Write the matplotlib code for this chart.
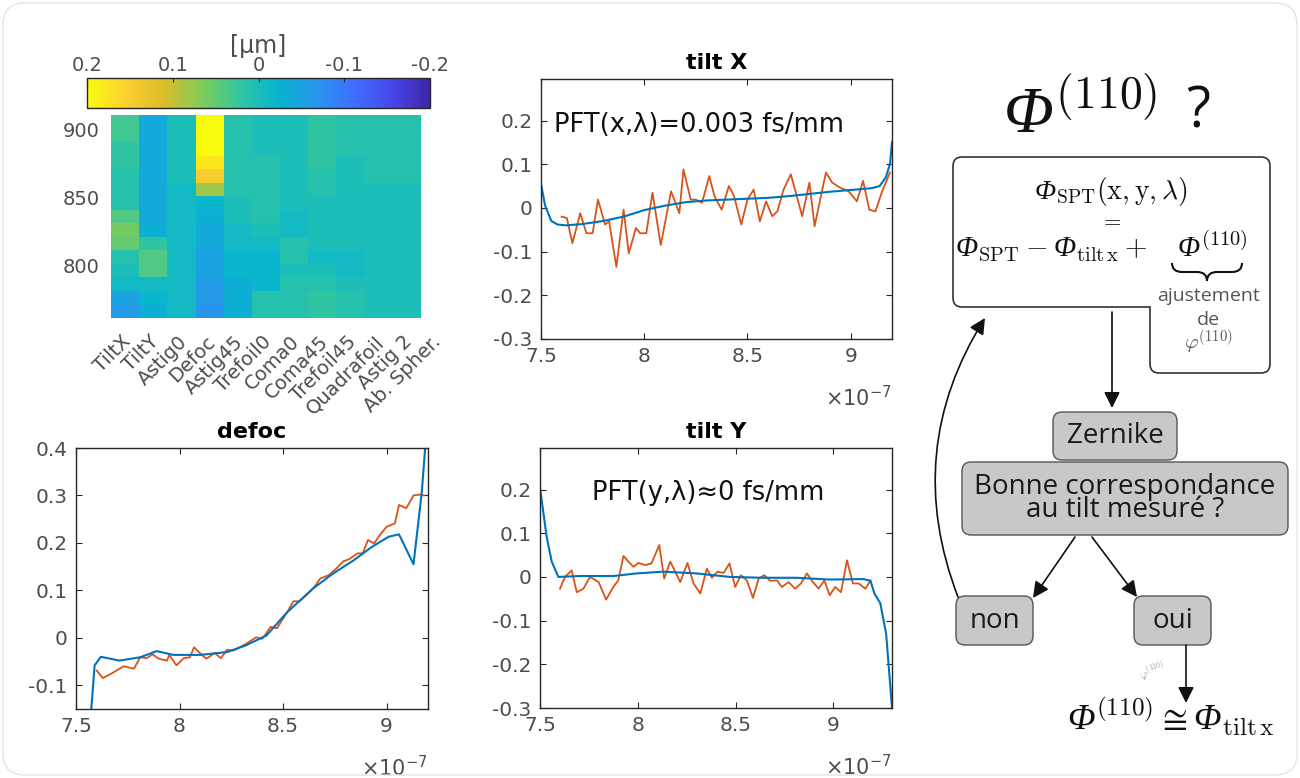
"""Zernike decomposition of the spatio-spectral phase and the tilt fitting loop."""

import matplotlib

matplotlib.use("Agg")
import matplotlib.pyplot as plt
import numpy as np
from matplotlib.colors import LinearSegmentedColormap, Normalize
from matplotlib.patches import FancyBboxPatch, PathPatch
from matplotlib.path import Path
from matplotlib.ticker import FormatStrFormatter
from matplotlib.transforms import ScaledTranslation

plt.rcParams["axes.unicode_minus"] = False
plt.rcParams["mathtext.fontset"] = "cm"

W, H = 1300, 778

# ---------------------------------------------------------------- data
zernike_labels = ["TiltX", "TiltY", "Astig0", "Defoc", "Astig45", "Trefoil0",
                  "Coma0", "Coma45", "Trefoil45", "Quadrafoil", "Astig 2",
                  "Ab. Spher."]
wavelength_edges = np.linspace(761, 911, 16)  # nm, 15 rows
# rows from 761 nm (bottom) to 911 nm (top), 11 cells (pcolor drops last label)
zernike_coeffs = np.array([
    [-0.06, -0.03, -0.01, -0.07, -0.03, 0.01, 0.01, 0.02, 0.01, 0.00, 0.00],
    [-0.05, -0.02, -0.01, -0.06, -0.03, 0.01, 0.01, 0.02, 0.01, 0.00, 0.00],
    [-0.01, -0.01, -0.01, -0.06, -0.03, -0.02, 0.01, 0.01, 0.00, 0.00, 0.00],
    [0.00, 0.04, -0.01, -0.05, -0.02, -0.02, 0.00, 0.00, -0.01, 0.00, 0.00],
    [0.01, 0.04, -0.01, -0.05, -0.02, -0.02, 0.01, -0.01, -0.01, 0.00, 0.00],
    [0.05, 0.02, -0.01, -0.04, -0.01, -0.01, 0.01, 0.00, 0.00, 0.00, 0.00],
    [0.06, -0.03, -0.01, -0.04, -0.01, 0.00, -0.01, 0.00, 0.00, 0.00, 0.00],
    [0.04, -0.04, -0.01, -0.03, 0.00, 0.01, -0.01, 0.00, 0.00, 0.00, 0.00],
    [0.01, -0.04, -0.01, -0.02, 0.00, 0.01, 0.00, 0.00, 0.00, 0.00, 0.00],
    [0.01, -0.04, -0.01, 0.08, 0.01, 0.01, 0.00, 0.01, 0.00, 0.00, 0.00],
    [0.01, -0.04, 0.00, 0.15, 0.01, 0.01, 0.00, 0.01, 0.00, 0.01, 0.01],
    [0.02, -0.04, 0.00, 0.18, 0.01, 0.01, 0.00, 0.02, 0.00, 0.01, 0.01],
    [0.02, -0.04, 0.00, 0.20, 0.01, 0.00, 0.00, 0.02, 0.01, 0.01, 0.01],
    [0.03, -0.04, 0.00, 0.20, 0.01, 0.00, 0.00, 0.02, 0.01, 0.01, 0.01],
    [0.03, -0.04, 0.00, 0.20, 0.01, 0.00, 0.00, 0.02, 0.01, 0.01, 0.01],
])
cbar_ticks = [0.2, 0.1, 0, -0.1, -0.2]

# wavelength in units of 1e-7 m
tiltx_fit_x = [7.50, 7.52, 7.55, 7.58, 7.62, 7.70, 7.80, 7.90, 8.00, 8.10, 8.20,
               8.30, 8.40, 8.50, 8.60, 8.70, 8.80, 8.90, 9.00, 9.10, 9.14, 9.17,
               9.19, 9.20]
tiltx_fit_y = [0.055, 0.005, -0.03, -0.038, -0.04, -0.037, -0.03, -0.02, -0.005,
               0.005, 0.013, 0.017, 0.019, 0.021, 0.023, 0.027, 0.032, 0.037,
               0.041, 0.045, 0.05, 0.07, 0.10, 0.15]
tiltx_meas_x = [7.60, 7.625, 7.652, 7.69, 7.72, 7.75, 7.776, 7.81, 7.83, 7.865,
                7.90, 7.925, 7.96, 7.98, 8.01, 8.04, 8.08, 8.13, 8.17, 8.19,
                8.225, 8.25, 8.28, 8.315, 8.34, 8.375, 8.41, 8.435, 8.47, 8.50,
                8.53, 8.56, 8.59, 8.62, 8.645, 8.675, 8.71, 8.765, 8.80, 8.825,
                8.88, 8.91, 8.95, 8.99, 9.03, 9.06, 9.09, 9.12, 9.15, 9.19]
tiltx_meas_y = [-0.02, -0.023, -0.081, -0.012, -0.058, -0.058, 0.019, -0.038,
                -0.031, -0.135, -0.004, -0.104, -0.046, -0.058, -0.058, 0.035,
                -0.085, 0.038, -0.012, 0.088, 0.019, 0.019, 0.012, 0.073, 0.027,
                -0.004, 0.05, 0.027, -0.038, 0.019, 0.042, -0.031, 0.015, -0.019,
                -0.008, 0.042, 0.077, -0.019, 0.058, -0.042, 0.081, 0.058, 0.046,
                0.038, 0.015, 0.062, -0.004, -0.008, 0.035, 0.081]

defoc_fit_x = [7.565, 7.59, 7.62, 7.71, 7.81, 7.89, 7.97, 8.10, 8.23, 8.32, 8.42,
               8.52, 8.645, 8.74, 8.84, 8.93, 9.01, 9.06, 9.13, 9.17, 9.195]
defoc_fit_y = [-0.20, -0.058, -0.04, -0.048, -0.041, -0.028, -0.036, -0.036,
               -0.03, -0.016, 0.005, 0.054, 0.104, 0.135, 0.163, 0.192, 0.213,
               0.218, 0.155, 0.307, 0.45]
defoc_meas_x = [7.60, 7.63, 7.68, 7.73, 7.78, 7.81, 7.84, 7.87, 7.90, 7.94, 7.95,
                7.985, 8.02, 8.05, 8.07, 8.11, 8.13, 8.17, 8.20, 8.23, 8.26, 8.29,
                8.32, 8.37, 8.40, 8.44, 8.47, 8.52, 8.55, 8.58, 8.61, 8.645, 8.68,
                8.72, 8.76, 8.79, 8.82, 8.86, 8.885, 8.91, 8.94, 8.97, 9.00, 9.04,
                9.06, 9.095, 9.13, 9.16, 9.18]
defoc_meas_y = [-0.069, -0.085, -0.073, -0.06, -0.065, -0.041, -0.043, -0.035,
                -0.044, -0.048, -0.036, -0.058, -0.043, -0.041, -0.02, -0.037,
                -0.044, -0.032, -0.043, -0.025, -0.027, -0.02, -0.013, 0.001,
                -0.002, 0.023, 0.02, 0.054, 0.077, 0.077, 0.089, 0.104, 0.125,
                0.132, 0.147, 0.161, 0.166, 0.178, 0.178, 0.206, 0.199, 0.218,
                0.234, 0.241, 0.28, 0.273, 0.30, 0.302, 0.30]

tilty_fit_x = [7.50, 7.534, 7.56, 7.594, 7.705, 7.875, 7.995, 8.13, 8.30, 8.47,
               8.64, 8.81, 8.98, 9.155, 9.19, 9.21, 9.24, 9.27, 9.30]
tilty_fit_y = [0.204, 0.092, 0.035, 0.0, 0.002, 0.002, 0.008, 0.012, 0.008, 0.0,
               -0.002, -0.002, -0.006, -0.005, -0.009, -0.038, -0.06, -0.13, -0.30]
tilty_meas_x = [7.602, 7.628, 7.662, 7.688, 7.722, 7.756, 7.80, 7.838, 7.875,
                7.90, 7.927, 7.952, 7.978, 8.003, 8.038, 8.07, 8.11, 8.135, 8.166,
                8.196, 8.217, 8.254, 8.285, 8.32, 8.353, 8.379, 8.408, 8.439,
                8.469, 8.498, 8.527, 8.558, 8.589, 8.618, 8.647, 8.677, 8.712,
                8.737, 8.771, 8.805, 8.834, 8.865, 8.896, 8.925, 8.954, 8.981,
                9.01, 9.039, 9.07, 9.10, 9.13, 9.164, 9.19]
tilty_meas_y = [-0.027, 0.0, 0.015, -0.035, -0.027, 0.0, -0.012, -0.052, -0.023,
                -0.008, 0.048, 0.035, 0.023, 0.032, 0.027, 0.031, 0.073, -0.004,
                0.035, 0.008, -0.012, 0.032, -0.015, -0.038, 0.019, -0.002, 0.012,
                0.009, 0.031, -0.023, 0.004, -0.008, -0.048, -0.004, 0.004, -0.009,
                -0.008, -0.023, -0.012, -0.027, -0.015, 0.008, -0.012, -0.027,
                -0.008, -0.042, -0.023, -0.035, 0.038, -0.015, -0.015, -0.027,
                -0.008]

# ---------------------------------------------------------------- style
BLUE = "#0072BD"
ORANGE = "#D95319"
TICK_GRAY = "#4d4d4d"
EDGE = "#262626"
SERIF = "Liberation Serif"

parula = LinearSegmentedColormap.from_list("parula", [
    (0.2422, 0.1504, 0.6603), (0.2803, 0.2782, 0.9221),
    (0.2440, 0.4358, 0.9988), (0.1540, 0.5902, 0.9218),
    (0.0297, 0.7082, 0.8163), (0.1938, 0.7758, 0.6251),
    (0.5044, 0.7993, 0.3480), (0.8634, 0.7406, 0.1596),
    (0.9892, 0.8136, 0.1885), (0.9763, 0.9831, 0.0538)])


def px_rect(x0, y0, x1, y1):
    """Pixel box (top-left origin) to figure-fraction rect."""
    return [x0 / W, 1 - y1 / H, (x1 - x0) / W, (y1 - y0) / H]


def matlab_axes(fig, rect, title):
    ax = fig.add_axes(rect)
    ax.set_title(title, fontsize=16, fontweight="bold", pad=7)
    ax.tick_params(direction="in", length=4, width=0.8, top=True, right=True,
                   labelsize=14.5, labelcolor=TICK_GRAY, color=EDGE, pad=6)
    for spine in ax.spines.values():
        spine.set_color(EDGE)
        spine.set_linewidth(1.0)
    ax.xaxis.set_major_formatter(FormatStrFormatter("%g"))
    ax.yaxis.set_major_formatter(FormatStrFormatter("%g"))
    ax.text(1.0, -0.225, r"$\times10^{-7}$", transform=ax.transAxes, ha="right",
            va="center", fontsize=15, color=TICK_GRAY, math_fontfamily="dejavusans")
    return ax


def rounded_path(points, radii):
    verts, codes = [], []
    n = len(points)
    for i in range(n):
        p0 = np.asarray(points[i - 1], float)
        p1 = np.asarray(points[i], float)
        p2 = np.asarray(points[(i + 1) % n], float)
        d0 = (p0 - p1) / np.linalg.norm(p0 - p1)
        d2 = (p2 - p1) / np.linalg.norm(p2 - p1)
        verts.append(p1 + d0 * radii[i])
        codes.append(Path.MOVETO if i == 0 else Path.LINETO)
        verts += [p1, p1 + d2 * radii[i]]
        codes += [Path.CURVE3, Path.CURVE3]
    verts.append(verts[0])
    codes.append(Path.CLOSEPOLY)
    return Path(verts, codes)


fig = plt.figure(figsize=(W / 100, H / 100), dpi=100)

# ---------------------------------------------------------------- heatmap
ax_map = fig.add_axes(px_rect(111, 115, 421, 318))
norm = Normalize(vmin=-0.2, vmax=0.2)
mesh = ax_map.pcolormesh(np.arange(1, 13), wavelength_edges, zernike_coeffs,
                         cmap=parula, norm=norm, shading="flat")
ax_map.set_xlim(1, 12)
ax_map.set_ylim(wavelength_edges[0], wavelength_edges[-1])
ax_map.set_yticks([800, 850, 900])
ax_map.set_xticks(np.arange(1, 13))
ax_map.set_xticklabels(zernike_labels, rotation=45, ha="right", va="center",
                       rotation_mode="anchor")
ax_map.tick_params(length=0, labelsize=14, labelcolor=TICK_GRAY, pad=8)
ax_map.tick_params(axis="x", labelsize=14, pad=15)
for lbl in ax_map.get_xticklabels():
    lbl.set_transform(lbl.get_transform()
                      + ScaledTranslation(12 / 72, 0, fig.dpi_scale_trans))
for spine in ax_map.spines.values():
    spine.set_visible(False)

cax = fig.add_axes(px_rect(87, 78, 430, 108))
cbar = fig.colorbar(mesh, cax=cax, orientation="horizontal")
cax.invert_xaxis()
cbar.set_ticks(cbar_ticks)
cbar.set_ticklabels(["0.2", "0.1", "0", "-0.1", "-0.2"])
cax.xaxis.set_ticks_position("top")
cax.xaxis.set_label_position("top")
cax.tick_params(direction="in", length=3, labelsize=14, labelcolor=TICK_GRAY,
                color=EDGE, pad=2)
cbar.outline.set_edgecolor(EDGE)
cbar.outline.set_linewidth(1.0)
cax.set_xlabel("[µm]", fontsize=17, color=TICK_GRAY, labelpad=2)

# ---------------------------------------------------------------- tilt X
ax_tx = matlab_axes(fig, px_rect(541, 79, 892, 339), "tilt X")
ax_tx.plot(tiltx_meas_x, tiltx_meas_y, color=ORANGE, lw=1.3)
ax_tx.plot(tiltx_fit_x, tiltx_fit_y, color=BLUE, lw=1.5)
ax_tx.set_xlim(7.5, 9.2)
ax_tx.set_ylim(-0.3, 0.295)
ax_tx.set_xticks([7.5, 8, 8.5, 9])
ax_tx.set_yticks([-0.3, -0.2, -0.1, 0, 0.1, 0.2])
ax_tx.text(0.037, 0.823, "PFT(x,λ)=0.003 fs/mm", transform=ax_tx.transAxes,
           ha="left", va="center", fontsize=18.5, color="#111111")

# ---------------------------------------------------------------- defoc
ax_df = matlab_axes(fig, px_rect(76, 448, 428, 709), "defoc")
ax_df.plot(defoc_meas_x, defoc_meas_y, color=ORANGE, lw=1.3)
ax_df.plot(defoc_fit_x, defoc_fit_y, color=BLUE, lw=1.5)
ax_df.set_xlim(7.5, 9.2)
ax_df.set_ylim(-0.15, 0.4)
ax_df.set_xticks([7.5, 8, 8.5, 9])
ax_df.set_yticks([-0.1, 0, 0.1, 0.2, 0.3, 0.4])

# ---------------------------------------------------------------- tilt Y
ax_ty = matlab_axes(fig, px_rect(540, 448, 892, 708), "tilt Y")
ax_ty.plot(tilty_meas_x, tilty_meas_y, color=ORANGE, lw=1.3)
ax_ty.plot(tilty_fit_x, tilty_fit_y, color=BLUE, lw=1.5)
ax_ty.set_xlim(7.5, 9.3)
ax_ty.set_ylim(-0.3, 0.295)
ax_ty.set_xticks([7.5, 8, 8.5, 9])
ax_ty.set_yticks([-0.3, -0.2, -0.1, 0, 0.1, 0.2])
ax_ty.text(0.478, 0.827, "PFT(y,λ)≈0 fs/mm", transform=ax_ty.transAxes,
           ha="center", va="center", fontsize=18.5, color="#111111")

# ---------------------------------------------------------------- flowchart
ov = fig.add_axes([0, 0, 1, 1])
ov.set_xlim(0, W)
ov.set_ylim(H, 0)
ov.axis("off")

# card outline
ov.add_patch(FancyBboxPatch((3, 3), W - 6, H - 6,
                            boxstyle="round,pad=0,rounding_size=22",
                            fc="none", ec="#e4e4e4", lw=1.0))


def formula(x, y, s, size, ha="center", color="#111111"):
    # italic capital phi as plain serif text, the rest as Computer Modern math
    ov.text(x, y, s, ha=ha, va="baseline", fontsize=size, family=SERIF,
            style="italic", color=color, math_fontfamily="cm")


formula(1003, 133, r"Φ$^{(110)}$", 47, ha="left")
ov.text(1198, 127, "?", ha="center", va="baseline", fontsize=40,
        family="Open Sans", color="#111111")

# L-shaped box with the model
box_pts = [(953, 157), (1270, 157), (1270, 373), (1150, 373), (1150, 307),
           (953, 307)]
ov.add_patch(PathPatch(rounded_path(box_pts, [9, 9, 9, 9, 0, 9]),
                       fc="white", ec="#333333", lw=1.2))
formula(1111, 199, r"Φ$_{\mathrm{SPT}}(\mathrm{x},\mathrm{y},\lambda)$", 20)
ov.text(1111, 220, r"$=$", ha="center", va="center", fontsize=16,
        math_fontfamily="cm")
formula(955, 256,
        r"Φ$_{\mathrm{SPT}}-$Φ$_{\mathrm{tilt\,x}}+\quad$Φ$^{(110)}$", 21,
        ha="left")
brace = Path([(1172, 263), (1172, 272), (1182, 272), (1197, 272), (1207, 272),
              (1207, 281), (1207, 272), (1217, 272), (1232, 272), (1242, 272),
              (1242, 263)],
             [Path.MOVETO, Path.CURVE3, Path.CURVE3, Path.LINETO, Path.CURVE3,
              Path.CURVE3, Path.CURVE3, Path.CURVE3, Path.LINETO, Path.CURVE3,
              Path.CURVE3])
ov.add_patch(PathPatch(brace, fc="none", ec="#111111", lw=1.5))
ov.text(1208, 296, "ajustement", ha="center", va="center", fontsize=14,
        family="Open Sans", color="#555555")
ov.text(1208, 320, "de", ha="center", va="center", fontsize=14,
        family="Open Sans", color="#555555")
ov.text(1208, 342, r"$\varphi^{(110)}$", ha="center", va="center", fontsize=15,
        color="#555555", math_fontfamily="cm")


def gray_box(x0, y0, x1, y1, text):
    ov.add_patch(FancyBboxPatch((x0, y0), x1 - x0, y1 - y0,
                                boxstyle="round,pad=0,rounding_size=9",
                                fc="#c8c8c8", ec="#555555", lw=1.0))
    ov.text((x0 + x1) / 2, (y0 + y1) / 2, text, ha="center", va="center",
            fontsize=20, family="Open Sans", color="#1a1a1a", linespacing=0.8)


gray_box(1053, 412, 1177, 460, "Zernike")
gray_box(962, 462, 1288, 535, "Bonne correspondance\nau tilt mesuré ?")
gray_box(956, 596, 1033, 645, "non")
gray_box(1134, 596, 1211, 645, "oui")

arrow = dict(arrowstyle="-|>", color="#111111", lw=1.2, mutation_scale=24,
             shrinkA=0, shrinkB=0)
ov.annotate("", xy=(1112, 408), xytext=(1112, 312), arrowprops=arrow)
ov.annotate("", xy=(1033, 598), xytext=(1075, 537), arrowprops=arrow)
ov.annotate("", xy=(1137, 597), xytext=(1092, 537), arrowprops=arrow)
ov.annotate("", xy=(1186, 703), xytext=(1186, 645), arrowprops=arrow)
ov.annotate("", xy=(985, 318), xytext=(958, 597),
            arrowprops=dict(arrow, connectionstyle="arc3,rad=-0.25"))
ov.text(1153, 671, r"$\varphi^{(110)}$", ha="center", va="center", fontsize=8,
        color="#999999", rotation=20, math_fontfamily="cm")
formula(1067, 730, r"Φ$^{(110)}\cong$Φ$_{\mathrm{tilt\,x}}$", 26, ha="left")

fig.savefig("out.png", dpi=100)
